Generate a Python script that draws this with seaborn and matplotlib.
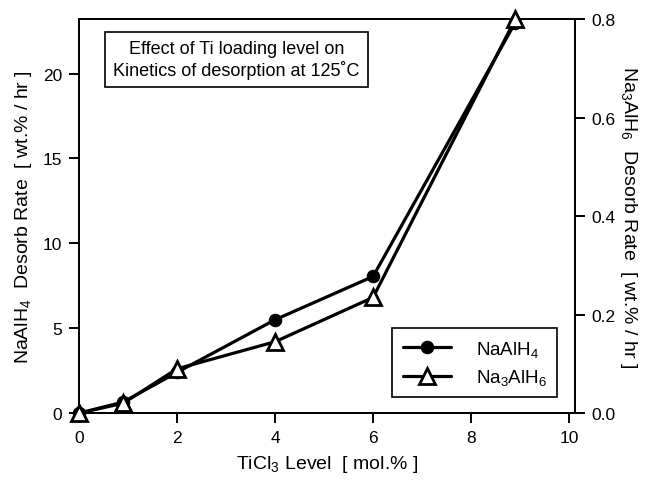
import matplotlib
matplotlib.use("Agg")
import matplotlib.pyplot as plt
import seaborn as sns
import pandas as pd

# data
ticl3_level = [0, 0.9, 2, 4, 6, 8.9]
naalh4_rate = [0, 0.65, 2.4, 5.5, 8.05, 23.0]      # left axis, wt.% / hr
na3alh6_rate = [0, 0.02, 0.09, 0.145, 0.235, 0.80]  # right axis, wt.% / hr

df = pd.DataFrame({
    "TiCl3": ticl3_level,
    "NaAlH4": naalh4_rate,
    "Na3AlH6": na3alh6_rate,
})

sns.set_style("ticks")
plt.rcParams["font.family"] = ["Liberation Sans", "DejaVu Sans"]
plt.rcParams["mathtext.fontset"] = "custom"
plt.rcParams["mathtext.rm"] = "Liberation Sans"
plt.rcParams["mathtext.it"] = "Liberation Sans"
plt.rcParams["mathtext.default"] = "regular"
plt.rcParams["axes.edgecolor"] = "black"
plt.rcParams["text.color"] = "black"
plt.rcParams["axes.labelcolor"] = "black"
plt.rcParams["axes.linewidth"] = 1.4

fig = plt.figure(figsize=(6.49, 4.81), dpi=100)
ax = fig.add_axes([0.1217, 0.139, 0.7643, 0.819])
ax2 = ax.twinx()

sns.lineplot(data=df, x="TiCl3", y="NaAlH4", ax=ax, color="black",
             linewidth=2.3, marker="o", markersize=9, markeredgecolor="black",
             markerfacecolor="black", label="NaAlH$_4$", legend=False,
             clip_on=False, zorder=3)
sns.lineplot(data=df, x="TiCl3", y="Na3AlH6", ax=ax2, color="black",
             linewidth=2.3, marker="^", markersize=11, markeredgewidth=2,
             markeredgecolor="black", markerfacecolor="white",
             label="Na$_3$AlH$_6$", legend=False, clip_on=False, zorder=3)

ax.set_xlim(0, 10.12)
ax.set_ylim(0, 23.2)
ax2.set_ylim(0, 0.8)
ax.set_xticks([0, 2, 4, 6, 8, 10])
ax.set_yticks([0, 5, 10, 15, 20])
ax2.set_yticks([0.0, 0.2, 0.4, 0.6, 0.8])
ax2.set_yticklabels(["0.0", "0.2", "0.4", "0.6", "0.8"])

for a in (ax, ax2):
    a.tick_params(direction="out", length=7, width=1.4, labelsize=12.5,
                  colors="black", pad=5)
    for s in a.spines.values():
        s.set_visible(True)
        s.set_color("black")
        s.set_linewidth(1.4)
ax.tick_params(top=False, right=False)

ax.set_xlabel("TiCl$_3$ Level  [ mol.% ]", fontsize=14, labelpad=6)
ax.set_ylabel("NaAlH$_4$  Desorb Rate  [ wt.% / hr ]", fontsize=14, labelpad=6)
ax2.set_ylabel("Na$_3$AlH$_6$  Desorb Rate  [ wt.% / hr ]", fontsize=14,
               rotation=270, labelpad=17)
ax.grid(False)
ax2.grid(False)

ax.text(0.317, 0.898, "Effect of Ti loading level on\nKinetics of desorption at 125˚C",
        transform=ax.transAxes, ha="center", va="center", fontsize=13,
        linespacing=1.2,
        bbox=dict(boxstyle="square,pad=0.45", facecolor="white",
                  edgecolor="black", linewidth=1.2))

h1, l1 = ax.get_legend_handles_labels()
h2, l2 = ax2.get_legend_handles_labels()
leg = ax2.legend(h1 + h2, l1 + l2, loc="lower right",
                 bbox_to_anchor=(0.964, 0.04), borderaxespad=0, fontsize=13.5,
                 frameon=True, fancybox=False, edgecolor="black",
                 framealpha=1, handlelength=2.6, handletextpad=1.3,
                 borderpad=0.55, labelspacing=0.45)
leg.get_frame().set_linewidth(1.2)

fig.savefig("out.png", dpi=100)
